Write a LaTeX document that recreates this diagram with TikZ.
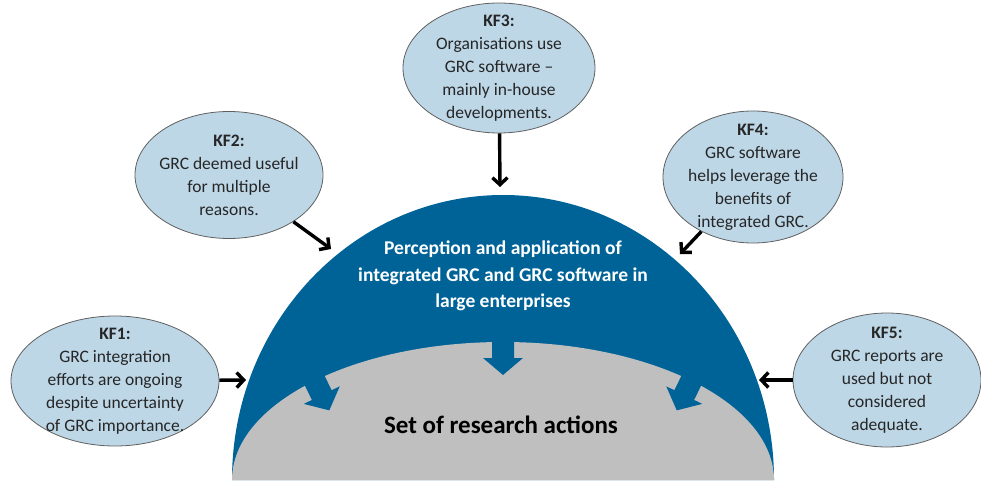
\documentclass[tikz,border=0pt]{standalone}
\usepackage{fontspec}
\setmainfont{Carlito}
\usepackage{tikz}
\usetikzlibrary{arrows.meta}
\usetikzlibrary{shapes.geometric}

\definecolor{domeblue}{RGB}{0,99,151}
\definecolor{domegray}{RGB}{191,191,191}
\definecolor{bubblefill}{RGB}{189,215,231}
\definecolor{bubbleline}{RGB}{95,95,95}

\tikzset{
  bubble/.style={ellipse, draw=bubbleline, line width=0.8, fill=bubblefill, inner sep=0},
  bubbletext/.style={align=center, text=black!85, font=\fontsize{17.5}{23}\selectfont},
  kfarrow/.style={black, line width=3.4, -{Straight Barb[length=7,width=15]}},
  blockarrow/.pic={
    \fill[domeblue] (-11,12) -- (-11,-16) -- (-20,-16) -- (0,-33) -- (20,-16) -- (11,-16) -- (11,12) -- cycle;
  }
}

\begin{document}
\begin{tikzpicture}[x=1pt, y=1pt]
\useasboundingbox (0,0) rectangle (981,480);

% the two domes
\fill[domeblue] (232,0) arc[start angle=180, end angle=0, x radius=271, y radius=285] -- cycle;
\fill[domegray] (232,0) arc[start angle=180, end angle=0, x radius=271, y radius=138] -- cycle;
\foreach \t in {46,90,134}
  \pic[rotate={atan2(sin(\t)/138, cos(\t)/271)-90}] at ({503+271*cos(\t)},{138*sin(\t)}) {blockarrow};

\node[align=center, text=white, font=\fontsize{19.5}{26.5}\selectfont\bfseries] (percept) at (503,204)
  {Perception and application of\\integrated GRC and GRC software in\\large enterprises};
\node[font=\fontsize{25}{28}\selectfont\bfseries] (actions) at (501,55) {Set of research actions};

% key findings
\node[bubble, minimum width=208, minimum height=130,
  label={[bubbletext]center:{\textbf{KF1:}\\GRC integration\\efforts are ongoing\\despite uncertainty\\of GRC importance.}}] (kf1) at (115,99) {};
\node[bubble, minimum width=188, minimum height=127,
  label={[bubbletext]center:{\textbf{KF2:}\\GRC deemed useful\\for multiple\\reasons.}}] (kf2) at (229,305) {};
\node[bubble, minimum width=192, minimum height=130,
  label={[bubbletext]center:{\textbf{KF3:}\\Organisations use\\GRC software --\\mainly in-house\\developments.}}] (kf3) at (499,412) {};
\node[bubble, minimum width=180, minimum height=132,
  label={[bubbletext]center:{\textbf{KF4:}\\GRC software\\helps leverage the\\benefits of\\integrated GRC.}}] (kf4) at (753,303) {};
\node[bubble, minimum width=188, minimum height=134,
  label={[bubbletext]center:{\textbf{KF5:}\\GRC reports are\\used but not\\considered\\adequate.}}] (kf5) at (887,100) {};

% where the arrows hit the dome
\coordinate (in1) at (246,100);
\coordinate (in2) at (331,231);
\coordinate (in3) at (500,293);
\coordinate (in4) at (680,226);
\coordinate (in5) at (759,100);

\foreach \k in {1,...,5}
  \draw[kfarrow] (kf\k) -- (in\k);
\end{tikzpicture}
\end{document}
